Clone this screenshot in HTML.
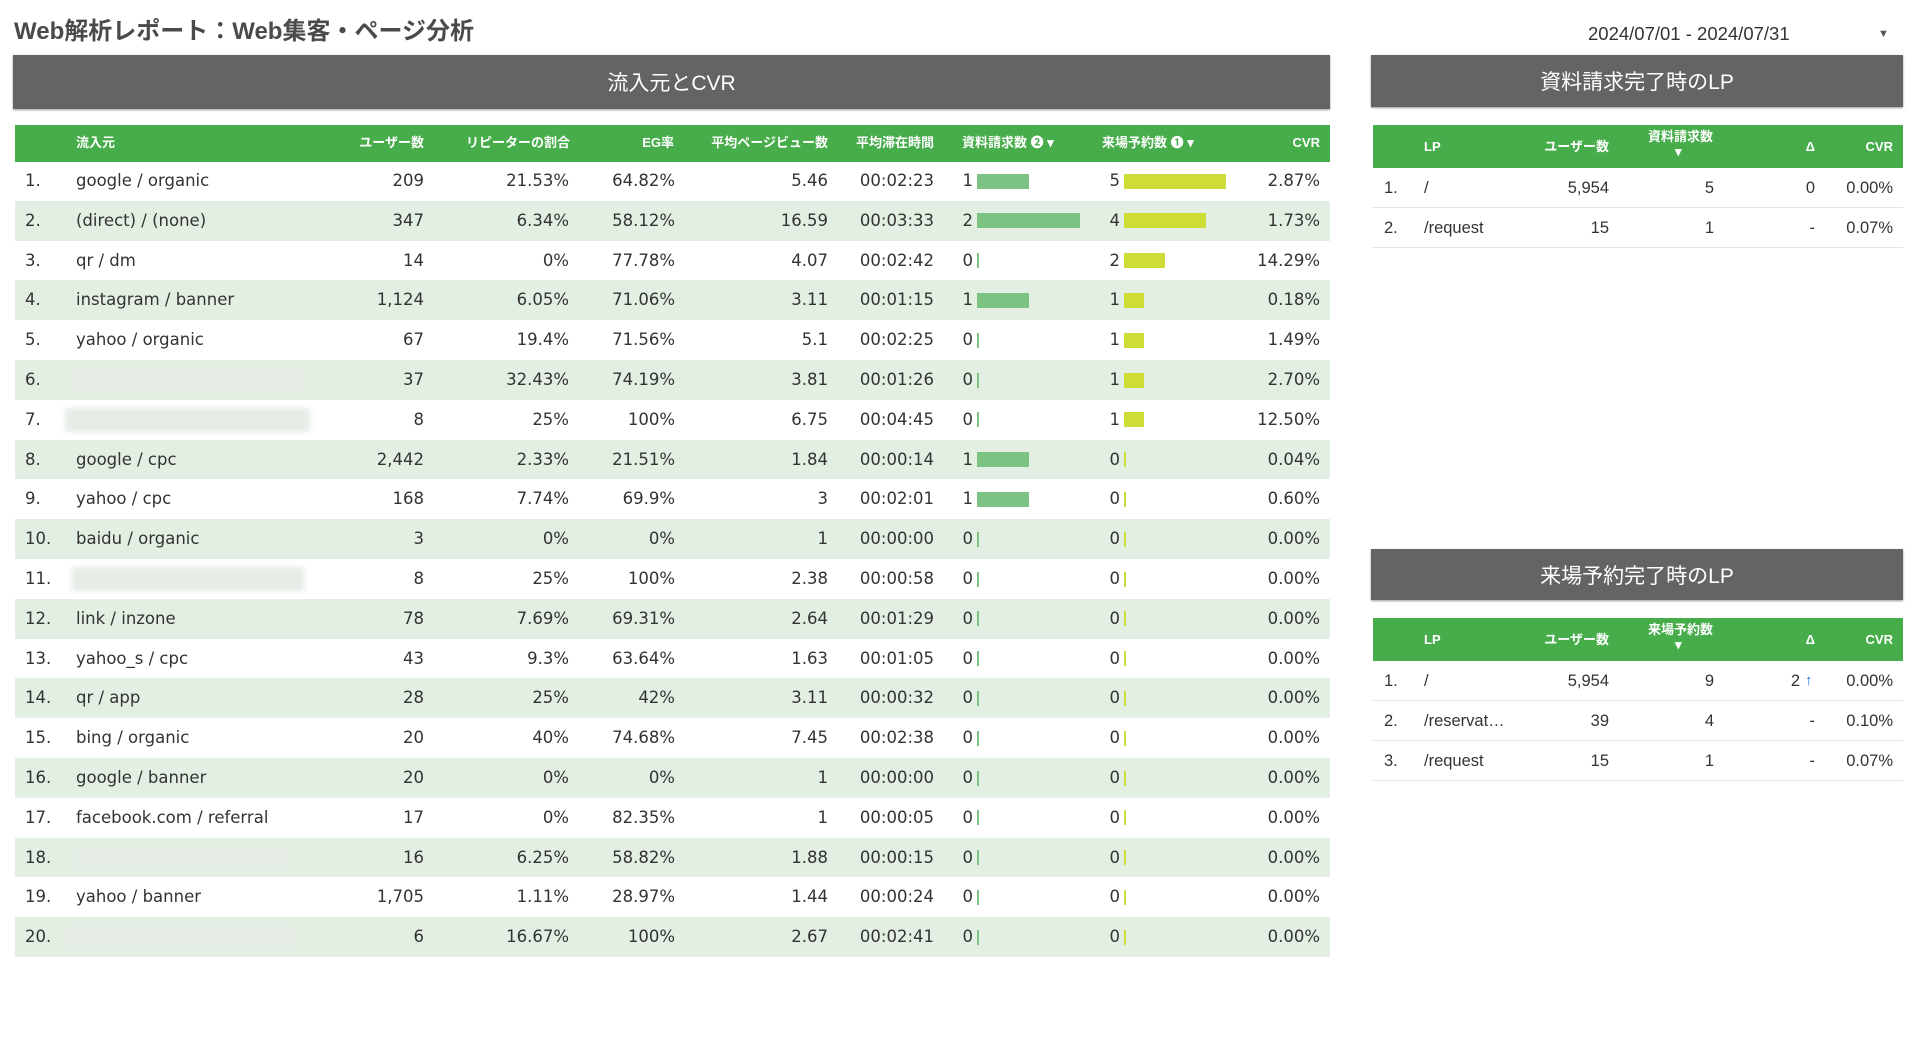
<!DOCTYPE html>
<html><head><meta charset="utf-8">
<style>
body{margin:0;width:1920px;height:1042px;background:#fff;position:relative;overflow:hidden;font-family:"Liberation Sans","Noto Sans CJK JP",sans-serif;color:#333}
.a{position:absolute;white-space:nowrap}
.dark{position:absolute;background:#646464;color:#fff;font-size:21px;display:flex;align-items:center;justify-content:center;box-shadow:0 1px 2px #999}
.gh{position:absolute;background:#47ad4b}
.hl{position:absolute;color:#fff;font-weight:bold;font-size:13px;line-height:16px;white-space:nowrap}
.lt{font-family:"DejaVu Sans","Noto Sans CJK JP",sans-serif;font-size:16.5px;color:#333;line-height:20px}
.rt{font-size:16.5px;color:#333;line-height:20px}
.blur{position:absolute;background:#e6ebe6;filter:blur(3px)}
</style></head><body>
<div class="a" style="left:14px;top:11px;font-size:24px;font-weight:bold;color:#4a4a4a">Web解析レポート：Web集客・ページ分析</div>
<div class="a" style="left:1588px;top:23px;font-size:18.5px;color:#333">2024/07/01 - 2024/07/31</div>
<div class="a" style="left:1878px;top:28px;font-size:11px;color:#555">▼</div>

<div class="dark" style="left:13px;top:55px;width:1317px;height:54px">流入元とCVR</div>
<div class="gh" style="left:15px;top:125px;width:1315px;height:37px"></div>
<div id="left"></div>

<div class="dark" style="left:1371px;top:55px;width:532px;height:52px">資料請求完了時のLP</div>
<div class="gh" style="left:1373px;top:125px;width:530px;height:43px"></div>
<div class="dark" style="left:1371px;top:549px;width:532px;height:51px">来場予約完了時のLP</div>
<div class="gh" style="left:1373px;top:618px;width:530px;height:43px"></div>
<div id="right"></div>

<script>
const sources=["google / organic","(direct) / (none)","qr / dm","instagram / banner","yahoo / organic","","","google / cpc","yahoo / cpc","baidu / organic","","link / inzone","yahoo_s / cpc","qr / app","bing / organic","google / banner","facebook.com / referral","","yahoo / banner",""];
const users=["209","347","14","1,124","67","37","8","2,442","168","3","8","78","43","28","20","20","17","16","1,705","6"];
const repeat=["21.53%","6.34%","0%","6.05%","19.4%","32.43%","25%","2.33%","7.74%","0%","25%","7.69%","9.3%","25%","40%","0%","0%","6.25%","1.11%","16.67%"];
const eg=["64.82%","58.12%","77.78%","71.06%","71.56%","74.19%","100%","21.51%","69.9%","0%","100%","69.31%","63.64%","42%","74.68%","0%","82.35%","58.82%","28.97%","100%"];
const pv=["5.46","16.59","4.07","3.11","5.1","3.81","6.75","1.84","3","1","2.38","2.64","1.63","3.11","7.45","1","1","1.88","1.44","2.67"];
const stay=["00:02:23","00:03:33","00:02:42","00:01:15","00:02:25","00:01:26","00:04:45","00:00:14","00:02:01","00:00:00","00:00:58","00:01:29","00:01:05","00:00:32","00:02:38","00:00:00","00:00:05","00:00:15","00:00:24","00:02:41"];
const requests=[1,2,0,1,0,0,0,1,1,0,0,0,0,0,0,0,0,0,0,0];
const reservations=[5,4,2,1,1,1,1,0,0,0,0,0,0,0,0,0,0,0,0,0];
const cvr=["2.87%","1.73%","14.29%","0.18%","1.49%","2.70%","12.50%","0.04%","0.60%","0.00%","0.00%","0.00%","0.00%","0.00%","0.00%","0.00%","0.00%","0.00%","0.00%","0.00%"];
const blurBoxes={5:[70,303],6:[65,310],10:[72,304],17:[75,290],19:[66,295]};

const reqLp=["/","/request"],reqUsers=["5,954","15"],reqCount=["5","1"],reqDelta=["0","-"],reqCvr=["0.00%","0.07%"];
const resLp=["/","/reservat…","/request"],resUsers=["5,954","39","15"],resCount=["9","4","1"],resDelta=["2","-","-"],resCvr=["0.00%","0.10%","0.07%"];

const L=document.getElementById('left'),R=document.getElementById('right');
function txt(parent,cls,s,x,y,right,name){const d=document.createElement('div');d.className='a '+cls;d.textContent=s;
d.style.top=y+'px';if(right){d.style.right=(1920-x)+'px';}else d.style.left=x+'px';


parent.appendChild(d);return d;}
function hl(parent,s,x,y,right,name){const d=document.createElement('div');d.className='hl';d.textContent=s;d.style.top=y+'px';
if(right)d.style.right=(1920-x)+'px';else d.style.left=x+'px';


parent.appendChild(d);return d;}
const hy=135;
hl(L,"流入元",76,hy,false,'col-source');
hl(L,"ユーザー数",424,hy,true,'col-users');
hl(L,"リピーターの割合",570,hy,true,'col-repeater');
hl(L,"EG率",674,hy,true,'col-eg');
hl(L,"平均ページビュー数",828,hy,true,'col-pv');
hl(L,"平均滞在時間",934,hy,true,'col-stay');
hl(L,"資料請求数  ❷  ▾",962,hy,false,'col-requests');
hl(L,"来場予約数  ❶  ▾",1102,hy,false,'col-reservations');
hl(L,"CVR",1320,hy,true,'col-cvr');
const top0=161,rh=39.8,reqX=977,reqU=51.5,resX=1124,resU=20.4;
function yAt(i){return top0+i*rh;}
for(let i=0;i<sources.length;i++){
  const y=yAt(i);
  if(i%2==1){const b=document.createElement('div');b.className='a';b.style.cssText=`left:15px;top:${y}px;width:1315px;height:${rh}px;background:#e2efe2`;
  
  
  L.appendChild(b);}
  const ty=y+10;
  txt(L,'lt',(i+1)+'.',25,ty,false,'row-number');
  if(sources[i])txt(L,'lt',sources[i],76,ty,false,'source-name');
  else if(blurBoxes[i]){const b=document.createElement('div');b.className='blur';const bb=blurBoxes[i];
  b.style.cssText=`left:${bb[0]}px;top:${y+8}px;width:${bb[1]-bb[0]}px;height:${rh-16}px`;
  
  
  L.appendChild(b);}
  txt(L,'lt',users[i],424,ty,true,'users-value');
  txt(L,'lt',repeat[i],569,ty,true,'repeater-value');
  txt(L,'lt',eg[i],675,ty,true,'eg-value');
  txt(L,'lt',pv[i],828,ty,true,'pv-value');
  txt(L,'lt',stay[i],934,ty,true,'stay-value');
  txt(L,'lt',String(requests[i]),973,ty,true,'requests-value');
  txt(L,'lt',String(reservations[i]),1120,ty,true,'reservations-value');
  txt(L,'lt',cvr[i],1320,ty,true,'cvr-value');
  const b1=document.createElement('div');b1.className='a';
  b1.style.cssText=`left:${reqX}px;top:${y+12.5}px;height:15px;width:${Math.max(requests[i]*reqU,1.5)}px;background:#7cc283`;
  
  
  L.appendChild(b1);
  const b2=document.createElement('div');b2.className='a';
  b2.style.cssText=`left:${resX}px;top:${y+12.5}px;height:15px;width:${Math.max(reservations[i]*resU,1.5)}px;background:#cddc36`;
  
  
  L.appendChild(b2);
}
function rtable(hTop,rowTop,label,lp,us,cnt,del,cv,prefix){
  const hy=hTop+14;
  hl(R,"LP",1424,hy,false,prefix+'-col-lp');
  hl(R,"ユーザー数",1609,hy,true,prefix+'-col-users');
  hl(R,label,1648,hTop+4,false,prefix+'-col-count');
  hl(R,"▾",1675,hTop+19,false,prefix+'-sort-arrow');
  hl(R,"Δ",1815,hy,true,prefix+'-col-delta');
  hl(R,"CVR",1893,hy,true,prefix+'-col-cvr');
  for(let i=0;i<lp.length;i++){
    const y=rowTop+i*40,ty=y+10;
    const line=document.createElement('div');line.className='a';line.style.cssText=`left:1373px;top:${y+39}px;width:530px;height:1px;background:#e3e3e3`;
    
    
    R.appendChild(line);
    txt(R,'rt',(i+1)+'.',1384,ty,false,prefix+'-row-number');
    txt(R,'rt',lp[i],1424,ty,false,prefix+'-lp');
    txt(R,'rt',us[i],1609,ty,true,prefix+'-users');
    txt(R,'rt',cnt[i],1714,ty,true,prefix+'-count');
    txt(R,'rt',del[i],del[i]=='2'?1800:1815,ty,true,prefix+'-delta');
    if(del[i]=='2'){const ar=txt(R,'rt','↑',1805,ty,false,prefix+'-delta-up-arrow');ar.style.color='#1a73e8';ar.style.fontWeight='bold';ar.style.fontSize='15px';}
    txt(R,'rt',cv[i],1893,ty,true,prefix+'-cvr');
  }
}
rtable(125,168,"資料請求数",reqLp,reqUsers,reqCount,reqDelta,reqCvr,'request-lp');
rtable(618,661,"来場予約数",resLp,resUsers,resCount,resDelta,resCvr,'reservation-lp');
</script>
</body></html>
